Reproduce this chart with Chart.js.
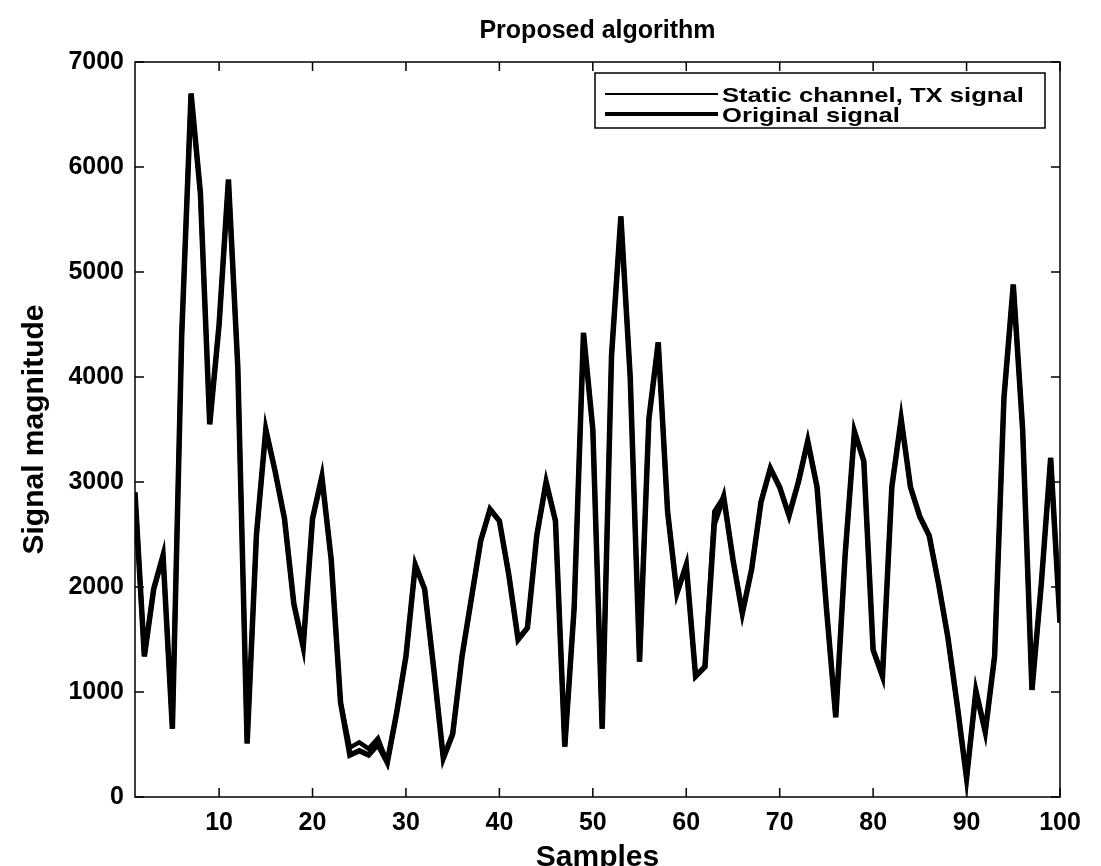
<!DOCTYPE html>
<html>
<head>
<meta charset="utf-8">
<title>Proposed algorithm</title>
<script src="https://cdn.jsdelivr.net/npm/chart.js@4.4.1/dist/chart.umd.min.js"></script>
<style>
  html, body { margin: 0; padding: 0; background: #fff; }
  #wrap { width: 1101px; height: 866px; }
</style>
</head>
<body>
<div id="wrap"><canvas id="chart" width="1101" height="866"></canvas></div>
<script>
// data
var samples = [];
for (var i = 1; i <= 100; i++) samples.push(i);

var originalSignal = [
  2900, 1340, 1980, 2300, 650, 4400, 6700, 5750, 3550, 4500,
  5880, 4100, 510, 2500, 3500, 3100, 2650, 1840, 1430, 2650,
  3050, 2260, 900, 400, 440, 400, 500, 330, 800, 1340,
  2210, 1980, 1200, 370, 600, 1340, 1890, 2440, 2740, 2630,
  2120, 1500, 1610, 2490, 3000, 2630, 480, 1800, 4420, 3500,
  650, 4200, 5530, 4000, 1290, 3600, 4330, 2720, 1940, 2210,
  1150, 1240, 2600, 2860, 2260, 1750, 2170, 2810, 3130, 2950,
  2680, 3000, 3390, 2950, 1800, 760, 2300, 3480, 3200, 1400,
  1150, 2950, 3600, 2950, 2670, 2490, 2030, 1520, 875, 180,
  1010, 620, 1340, 3800, 4880, 3500, 1020, 2030, 3230, 1660
];

var staticChannel = [
  2900, 1340, 1980, 2300, 650, 4400, 6700, 5750, 3550, 4500,
  5880, 4100, 510, 2500, 3500, 3100, 2650, 1840, 1430, 2650,
  3050, 2260, 900, 470, 520, 460, 560, 330, 800, 1340,
  2210, 1980, 1200, 370, 600, 1340, 1890, 2440, 2740, 2630,
  2120, 1500, 1610, 2490, 3000, 2630, 480, 1800, 4420, 3500,
  650, 4200, 5530, 4000, 1290, 3600, 4330, 2720, 1940, 2210,
  1150, 1240, 2720, 2860, 2260, 1750, 2170, 2810, 3130, 2950,
  2680, 3000, 3390, 2950, 1800, 760, 2300, 3480, 3200, 1400,
  1150, 2950, 3600, 2950, 2670, 2490, 2030, 1520, 875, 180,
  1010, 620, 1340, 3800, 4880, 3500, 1020, 2030, 3230, 1660
];

var xTicks = [10, 20, 30, 40, 50, 60, 70, 80, 90, 100];
var yTicks = [0, 1000, 2000, 3000, 4000, 5000, 6000, 7000];
var legendLabels = ["Static channel, TX signal", "Original signal"];

function toPoints(values) {
  return values.map(function (v, i) { return { x: samples[i], y: v }; });
}

var FONT = "'Liberation Sans', Arial, sans-serif";

// MATLAB style frame: box, inward ticks, title and legend
var matlabFrame = {
  id: "matlabFrame",
  afterDraw: function (chart) {
    var ctx = chart.ctx;
    var a = chart.chartArea;
    var xs = chart.scales.x;
    var ys = chart.scales.y;
    var tl = 9;
    ctx.save();
    ctx.strokeStyle = "#000";
    ctx.lineWidth = 1.5;
    ctx.strokeRect(a.left, a.top, a.right - a.left, a.bottom - a.top);
    ctx.beginPath();
    xTicks.forEach(function (v) {
      var px = xs.getPixelForValue(v);
      ctx.moveTo(px, a.bottom); ctx.lineTo(px, a.bottom - tl);
      ctx.moveTo(px, a.top); ctx.lineTo(px, a.top + tl);
    });
    yTicks.forEach(function (v) {
      var py = ys.getPixelForValue(v);
      ctx.moveTo(a.left, py); ctx.lineTo(a.left + tl, py);
      ctx.moveTo(a.right, py); ctx.lineTo(a.right - tl, py);
    });
    ctx.stroke();

    // title
    ctx.fillStyle = "#000";
    ctx.font = "bold 25px " + FONT;
    ctx.textAlign = "center";
    ctx.textBaseline = "middle";
    ctx.fillText("Proposed algorithm", (a.left + a.right) / 2, 31);

    // legend
    var bx = 595, by = 73, bw = 450, bh = 55;
    ctx.fillStyle = "#fff";
    ctx.fillRect(bx, by, bw, bh);
    ctx.lineWidth = 1.5;
    ctx.strokeRect(bx, by, bw, bh);
    ctx.font = "bold 21px " + FONT;
    ctx.textAlign = "left";
    chart.data.datasets.forEach(function (ds, i) {
      var ly = by + 21 + i * 20;
      ctx.strokeStyle = ds.borderColor;
      ctx.lineWidth = i === 0 ? 2 : 4;
      ctx.beginPath();
      ctx.moveTo(bx + 10, ly);
      ctx.lineTo(bx + 123, ly);
      ctx.stroke();
      ctx.fillStyle = "#000";
      ctx.save();
      ctx.translate(bx + 127, ly + 2);
      ctx.scale(1.22, 1);
      ctx.fillText(legendLabels[i], 0, 0);
      ctx.restore();
    });
    ctx.restore();
  }
};

new Chart(document.getElementById("chart"), {
  type: "line",
  data: {
    datasets: [
      {
        label: legendLabels[0],
        data: toPoints(staticChannel),
        borderColor: "#000",
        borderWidth: 4.5,
        pointRadius: 0,
        tension: 0
      },
      {
        label: legendLabels[1],
        data: toPoints(originalSignal),
        borderColor: "#000",
        borderWidth: 5.5,
        pointRadius: 0,
        tension: 0
      }
    ]
  },
  options: {
    responsive: false,
    animation: false,
    layout: { padding: { left: 0, right: 41, top: 62, bottom: 0 } },
    plugins: {
      legend: { display: false },
      title: { display: false },
      tooltip: { enabled: false }
    },
    scales: {
      x: {
        type: "linear",
        min: 1,
        max: 100,
        afterBuildTicks: function (scale) {
          scale.ticks = xTicks.map(function (v) { return { value: v }; });
        },
        afterFit: function (scale) { scale.height = 69; },
        grid: { display: false },
        border: { display: false },
        ticks: {
          color: "#000",
          padding: 6,
          maxRotation: 0,
          callback: function (v) { return String(v); },
          font: { family: FONT, size: 25, weight: "bold", lineHeight: 1 }
        },
        title: {
          display: true,
          text: "Samples",
          color: "#000",
          padding: { top: 0, bottom: -7 },
          font: { family: FONT, size: 30, weight: "bold", lineHeight: 1 }
        }
      },
      y: {
        min: 0,
        max: 7000,
        afterBuildTicks: function (scale) {
          scale.ticks = yTicks.map(function (v) { return { value: v }; });
        },
        afterFit: function (scale) { scale.width = 135; },
        grid: { display: false },
        border: { display: false },
        ticks: {
          color: "#000",
          padding: 3,
          callback: function (v) { return String(v); },
          font: { family: FONT, size: 25, weight: "bold" }
        },
        title: {
          display: true,
          text: "Signal magnitude",
          color: "#000",
          padding: { top: 20, bottom: 0 },
          font: { family: FONT, size: 30, weight: "bold", lineHeight: 1 }
        }
      }
    }
  },
  plugins: [matlabFrame]
});
</script>
</body>
</html>
